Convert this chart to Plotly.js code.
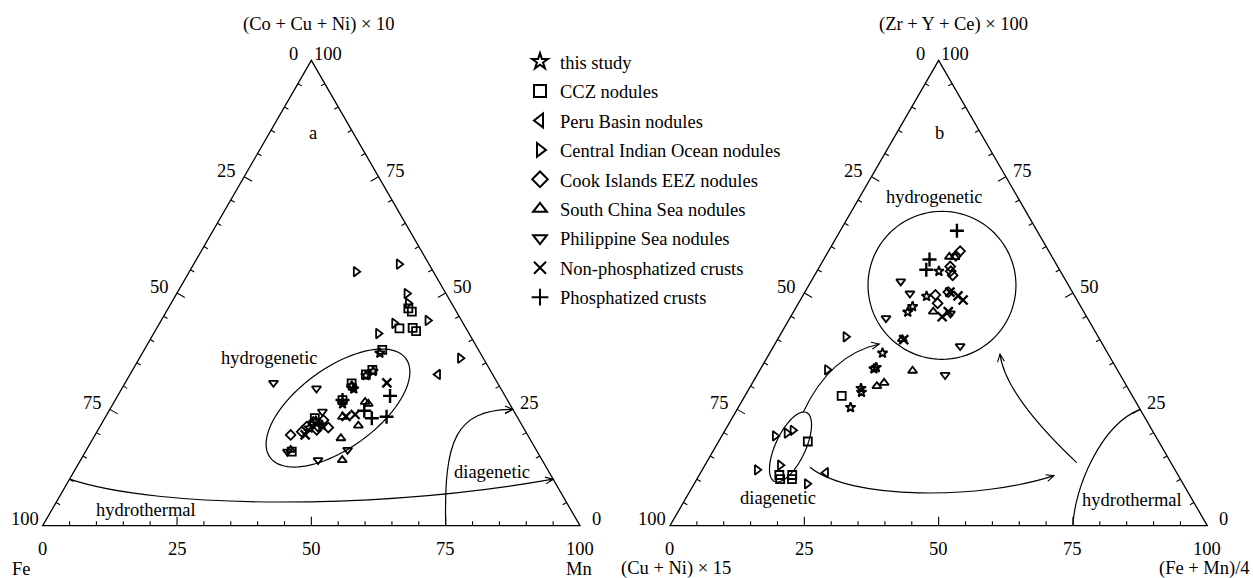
<!DOCTYPE html>
<html>
<head>
<meta charset="utf-8">
<script src="https://cdn.plot.ly/plotly-3.0.1.min.js"></script>
<style>
  html, body { margin: 0; padding: 0; background: #fff; }
  #chart { width: 1253px; height: 578px; }
</style>
</head>
<body>
<div id="chart"></div>
<script>
// Each sample is [apex %, right-corner %]; the left-corner share is the remainder to 100.

// Panel a: apex (Co + Cu + Ni) × 10, left corner Fe, right corner Mn
const studyA    = [[26.2,42.7],[30.0,42.5],[29.4,43.2],[32.3,44.0],[33.2,44.9],[22.5,39.6],[21.6,41.2],[21.0,39.1],[37.1,44.2]];
const cczA      = [[46.7,44.7],[46.0,45.7],[42.4,45.2],[42.5,47.6],[41.8,48.6],[37.8,44.3],[33.5,44.6],[32.5,43.9],[30.6,42.2],[27.0,42.3],[23.1,39.1],[15.9,38.4]];
const peruA     = [[32.5,57.3]];
const indianA   = [[54.6,31.0],[56.2,38.2],[49.9,42.8],[47.8,44.1],[43.5,43.7],[44.1,49.6],[41.3,41.8],[36.0,59.7]];
const cookA     = [[19.5,36.4],[20.2,38.1],[21.3,38.5],[21.3,40.6],[22.7,40.9],[21.1,42.6],[20.6,40.7],[29.9,42.6],[22.3,39.2]];
const scsA      = [[16.3,38.0],[18.8,46.1],[14.1,48.7],[21.5,48.0],[23.4,44.1],[26.6,46.7],[26.2,47.5]];
const philA     = [[30.7,27.6],[29.5,36.2],[24.5,39.8],[14.1,44.2],[16.3,48.6],[15.9,37.6]];
const nonPhosA  = [[30.7,48.7],[23.9,46.2],[23.5,44.7],[19.5,39.1]];
const phosA     = [[27.9,50.7],[23.1,49.7],[23.4,52.3],[24.7,47.5],[27.0,42.3]];

// Panel b: apex (Zr + Y + Ce) × 100, left corner (Cu + Ni) × 15, right corner (Fe + Mn)/4
const studyB    = [[54.7,22.7],[49.3,23.1],[47.1,21.6],[45.9,21.3],[37.1,21.0],[33.7,21.1],[34.0,21.4],[29.5,20.8],[28.7,21.3],[25.4,20.9]];
const cczB      = [[27.9,18.0],[18.1,16.6],[10.9,14.9],[10.0,15.5],[10.9,17.3],[10.0,17.7]];
const peruB     = [[11.4,23.3]];
const indianB   = [[40.6,12.4],[33.5,12.5],[19.3,9.9],[19.9,11.8],[20.5,12.6],[12.0,10.2],[13.0,14.0],[9.0,21.0]];
const cookB     = [[59.0,24.5],[58.0,24.2],[55.7,24.3],[53.8,25.7],[49.6,24.6],[47.8,25.9],[50.2,26.7],[54.7,24.9]];
const scsB      = [[57.8,23.1],[57.7,24.2],[46.0,26.0],[40.1,23.2],[30.0,23.5],[30.7,24.5],[33.3,28.5]];
const philB     = [[52.5,16.7],[49.9,19.7],[44.6,17.9],[38.6,34.7],[32.4,35.0],[45.6,29.4]];
const nonPhosB  = [[50.2,27.0],[49.4,28.9],[48.5,30.3],[46.0,28.8],[44.9,28.2],[40.0,23.5]];
const phosB     = [[63.4,21.7],[57.2,19.7],[55.0,20.2]];

const seriesNames = ['this study','CCZ nodules','Peru Basin nodules','Central Indian Ocean nodules',
  'Cook Islands EEZ nodules','South China Sea nodules','Philippine Sea nodules',
  'Non-phosphatized crusts','Phosphatized crusts'];

const panelA = [studyA, cczA, peruA, indianA, cookA, scsA, philA, nonPhosA, phosA];
const panelB = [studyB, cczB, peruB, indianB, cookB, scsB, philB, nonPhosB, phosB];

const tickLabels = [0, 25, 50, 75, 100];
const apexTitles = ['(Co + Cu + Ni) × 10', '(Zr + Y + Ce) × 100'];
const leftCornerTitles = ['Fe', '(Cu + Ni) × 15'];
const rightCornerTitles = ['Mn', '(Fe + Mn)/4'];
const panelLetters = ['a', 'b'];

// ---- drawing ----
const W = 1253, H = 578;
const PX = 5.373;          // pixels per unit along the triangle base
const BASE_Y = 525.7;      // pixel row of the triangle bases
const CORNER_X = [42.7, 670];
const SQ3 = Math.sqrt(3);
const FONT = { family: 'Liberation Serif', size: 18.5, color: '#000' };

const SYMBOLS = ['star-open','square-open','triangle-left-open','triangle-right-open','diamond-open',
  'triangle-up-open','triangle-down-open','x-thin','cross-thin'];
const SIZES = [7.5, 8, 8.5, 8.5, 7.5, 8, 8, 9, 10];
const LINEW = [1.8, 1.8, 1.8, 1.8, 1.8, 1.8, 1.8, 2.4, 2.4];

// ternary [apex, right] -> plane coordinates (base 0..100, apex at height 86.6)
const px = p => p[1] + p[0] / 2;
const py = p => p[0] * SQ3 / 2;

const traces = [];
[panelA, panelB].forEach((panel, pi) => {
  panel.forEach((pts, si) => {
    traces.push({
      type: 'scatter', mode: 'markers',
      xaxis: pi ? 'x2' : 'x', yaxis: pi ? 'y2' : 'y',
      x: pts.map(px), y: pts.map(py),
      name: seriesNames[si], legendgroup: 'g' + si, showlegend: pi === 0,
      marker: { symbol: SYMBOLS[si], size: SIZES[si], color: '#000',
                line: { color: '#000', width: LINEW[si] } },
      cliponaxis: false, hoverinfo: 'skip'
    });
  });
});

const f = v => v.toFixed(3);
const pt = p => f(p[0]) + ',' + f(p[1]);

function tickPath() {
  let d = '';
  for (let v = 5; v < 100; v += 5) {
    const len = (v % 25 === 0 ? 9 : 4.5) / PX;
    const t = 100 - v;
    let x = t / 2, y = t * SQ3 / 2;                       // left edge
    d += 'M' + pt([x, y]) + 'L' + pt([x + len * SQ3 / 2, y - len / 2]);
    x = 100 - v / 2; y = v * SQ3 / 2;                      // right edge
    d += 'M' + pt([x, y]) + 'L' + pt([x - len * SQ3 / 2, y - len / 2]);
    d += 'M' + pt([v, 0]) + 'L' + pt([v, len]);            // base
  }
  return d;
}

function ellipsePath(cx, cy, a, b, deg) {
  const th = deg * Math.PI / 180;
  let d = '';
  for (let i = 0; i <= 96; i++) {
    const u = i / 96 * 2 * Math.PI;
    const ex = a * Math.cos(u), ey = b * Math.sin(u);
    d += (i ? 'L' : 'M') + pt([cx + ex * Math.cos(th) - ey * Math.sin(th),
                               cy + ex * Math.sin(th) + ey * Math.cos(th)]);
  }
  return d + 'Z';
}

function cubicPath(c) { return 'M' + pt(c[0]) + 'C' + pt(c[1]) + ' ' + pt(c[2]) + ' ' + pt(c[3]); }
function quadPath(c) { return 'M' + pt(c[0]) + 'Q' + pt(c[1]) + ' ' + pt(c[2]); }

function arrowHead(tip, from) {
  const dx = tip[0] - from[0], dy = tip[1] - from[1];
  const n = Math.hypot(dx, dy), ux = -dx / n, uy = -dy / n;
  const L = 8.5 / PX, A = 24 * Math.PI / 180;
  const wing = s => [tip[0] + L * (ux * Math.cos(s * A) - uy * Math.sin(s * A)),
                     tip[1] + L * (ux * Math.sin(s * A) + uy * Math.cos(s * A))];
  return 'M' + pt(wing(1)) + 'L' + pt(tip) + 'L' + pt(wing(-1));
}

const shapes = [];
function addPath(pi, path, width) {
  shapes.push({ type: 'path', xref: pi ? 'x2' : 'x', yref: pi ? 'y2' : 'y', path: path,
                line: { color: '#000', width: width }, fillcolor: 'rgba(0,0,0,0)', layer: 'below' });
}

[0, 1].forEach(pi => {
  addPath(pi, 'M0,0L100,0L50,' + f(50 * SQ3) + 'Z', 1.3);
  addPath(pi, tickPath(), 1.1);
});

// panel a: field boundaries
const hydrothermalA = [[5, 8.66], [21.8, 3.0], [62.8, 3.0], [95, 8.66]];
const diageneticA = [[75, 0], [74.69, 15.95], [76.74, 21.53], [87.5, 21.65]];
addPath(0, ellipsePath(54.96, 21.9, 15.63, 7.44, 36), 1.2);
addPath(0, cubicPath(hydrothermalA), 1.2);
addPath(0, arrowHead(hydrothermalA[3], hydrothermalA[2]), 1.1);
addPath(0, cubicPath(diageneticA), 1.2);
addPath(0, arrowHead(diageneticA[3], diageneticA[2]), 1.1);

// panel b: field boundaries and trend arrows
const upArrowB = [[24.81, 21.16], [29.78, 31.77], [38.95, 33.82]];
const lowArrowB = [[26.06, 10.87], [33.5, 4.78], [57.7, 4.78], [71.47, 9.31]];
const sideArrowB = [[75.69, 11.73], [62.35, 24.33], [61.42, 31.96]];
const hydrothermalB = [[75, 0], [75.19, 6.64], [80.03, 18.74], [87.5, 21.65]];
addPath(1, ellipsePath(50.62, 44.74, 13.77, 13.77, 0), 1.2);
addPath(1, ellipsePath(22.43, 14.65, 7.07, 2.79, 65), 1.2);
addPath(1, quadPath(upArrowB), 1.2);
addPath(1, arrowHead(upArrowB[2], upArrowB[1]), 1.1);
addPath(1, cubicPath(lowArrowB), 1.2);
addPath(1, arrowHead(lowArrowB[3], lowArrowB[2]), 1.1);
addPath(1, quadPath(sideArrowB), 1.2);
addPath(1, arrowHead(sideArrowB[2], sideArrowB[1]), 1.1);
addPath(1, cubicPath(hydrothermalB), 1.2);

const annotations = [];
function label(pi, x, y, text, xs, ys) {
  annotations.push({ xref: pi ? 'x2' : 'x', yref: pi ? 'y2' : 'y', x: x, y: y, text: text,
    showarrow: false, xanchor: 'center', yanchor: 'middle', xshift: xs || 0, yshift: ys || 0,
    font: FONT });
}

[0, 1].forEach(pi => {
  tickLabels.forEach(v => {
    const t = 100 - v;
    label(pi, t / 2, t * SQ3 / 2, String(v), -17.8, 6.2);        // left-corner scale
    label(pi, 100 - v / 2, v * SQ3 / 2, String(v), 16.5, 6.2);   // apex scale
    label(pi, v, 0, String(v), 0, -23.6);                        // right-corner scale
  });
  label(pi, 50, 50 * SQ3, apexTitles[pi], pi ? 15 : 8, 36);
  label(pi, 0, 0, leftCornerTitles[pi], pi ? 6.5 : -21, -43.3);
  label(pi, 100, 0, rightCornerTitles[pi], pi ? -3 : -0.7, -43.3);
});
label(0, 50.25, 73.14, panelLetters[0]);
label(1, 50.2, 73.1, panelLetters[1]);
label(0, 42.3, 31.16, 'hydrogenetic');
label(0, 19.24, 2.92, 'hydrothermal');
label(0, 83.68, 10.05, 'diagenetic');
label(1, 49.27, 61.23, 'hydrogenetic');
label(1, 20.04, 5.1, 'diagenetic');
label(1, 85.93, 4.78, 'hydrothermal');

function xDomain(x0) { return [(x0 - 7 * PX) / W, (x0 + 107 * PX) / W]; }
const yDomain = [(H - (BASE_Y + 7 * PX)) / H, (H - (BASE_Y - 95 * PX)) / H];
const hidden = { showgrid: false, zeroline: false, showticklabels: false, showline: false, ticks: '', fixedrange: true };

const layout = {
  width: W, height: H,
  margin: { l: 0, r: 0, t: 0, b: 0, pad: 0 },
  paper_bgcolor: '#fff', plot_bgcolor: 'rgba(0,0,0,0)',
  showlegend: true,
  legend: { x: 520 / W, xanchor: 'left', y: (H - 43) / H, yanchor: 'top',
            font: FONT, bgcolor: 'rgba(0,0,0,0)', borderwidth: 0,
            itemsizing: 'constant', traceorder: 'grouped', tracegroupgap: 2.4 },
  xaxis:  Object.assign({ domain: xDomain(CORNER_X[0]), range: [-7, 107], anchor: 'y' }, hidden),
  yaxis:  Object.assign({ domain: yDomain, range: [-7, 95], anchor: 'x' }, hidden),
  xaxis2: Object.assign({ domain: xDomain(CORNER_X[1]), range: [-7, 107], anchor: 'y2' }, hidden),
  yaxis2: Object.assign({ domain: yDomain, range: [-7, 95], anchor: 'x2' }, hidden),
  shapes: shapes,
  annotations: annotations,
  hovermode: false
};

Plotly.newPlot('chart', traces, layout, { displayModeBar: false, staticPlot: true });
</script>
</body>
</html>
